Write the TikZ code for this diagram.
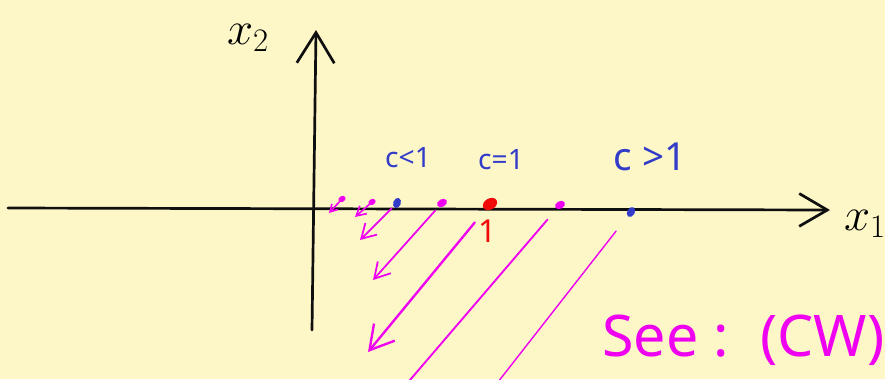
\RequirePackage{fix-cm}
\documentclass[tikz,border=0pt]{standalone}
\usepackage{fontspec}
\setsansfont{Noto Sans}
\usetikzlibrary{arrows.meta,positioning,calc,shapes.geometric}
\definecolor{paper}{RGB}{253,247,200}
\definecolor{pen}{RGB}{15,15,15}
\definecolor{penblue}{RGB}{50,60,200}
\definecolor{penmag}{RGB}{240,0,240}
\definecolor{penred}{RGB}{240,10,10}

\begin{document}
\begin{tikzpicture}[x=0.03cm,y=-0.03cm,line cap=round,line join=round,
  axisline/.style={line width=2.3pt,pen},
  flow/.style 2 args={penmag,line width=1.7pt,-{Straight Barb[length=#1,width=#2]}},
  dot/.style={ellipse,fill,inner sep=0pt,minimum width=9pt,minimum height=6.5pt,rotate=30},
  lbl/.style={penblue,font=\sffamily\fontsize{#1}{#1}\selectfont}]
\fill[paper] (0,0) rectangle (885,379);
\useasboundingbox (0,0) rectangle (885,379);
\clip (0,0) rectangle (885,379);

\coordinate (xs) at (8,208);
\coordinate (xe) at (830,210);
\coordinate (ys) at (312,330);
\coordinate (ye) at (316,30);
\draw[axisline,-{Straight Barb[length=24pt,width=28pt]}] (xs) -- (xe);
\draw[axisline,-{Straight Barb[length=26pt,width=32pt]}] (ys) -- (ye);
\node[font=\fontsize{40}{40}\selectfont] (xtwo) at (248,38) {$x_2$};
\node[font=\fontsize{40}{40}\selectfont,anchor=west] (xone) at (840,224) {$x_1$};

\node[dot,penmag,minimum width=6.5pt,minimum height=5pt] (m1) at (342,199) {};
\node[dot,penmag,minimum width=6.5pt,minimum height=5pt] (m2) at (372,202) {};
\node[dot,penblue,rotate=40] (b1) at (397,203) {};
\node[dot,penmag] (m3) at (442,203) {};
\node[dot,penred,minimum width=13pt,minimum height=9.5pt] (r1) at (490,204) {};
\node[dot,penmag] (m4) at (560,205) {};
\node[dot,penblue,rotate=30] (b2) at (631,212) {};

\node[lbl=24] (cless) at (408,158) {c<1};
\node[lbl=24] (cequal) at (501,160) {c=1};
\node[lbl=33] (cmore) at (650,157) {c >1};
\node[penred,font=\sffamily\fontsize{27}{27}\selectfont] (one) at (488,231) {1};

\coordinate (e1) at (329,213);
\coordinate (e2) at (355,217);
\coordinate (e3) at (360,240);
\coordinate (e4) at (373,280);
\coordinate (e5) at (368,352);
\coordinate (e6) at (386,408);
\coordinate (e7) at (480,405);
\draw[flow={6pt}{7pt},line width=1.4pt] (m1) -- (e1);
\draw[flow={8pt}{9pt},line width=1.4pt] (m2) -- (e2);
\draw[flow={12pt}{14pt},line width=1.5pt,shorten <=2pt] (b1) -- (e3);
\draw[flow={13pt}{15pt},line width=1.5pt,shorten <=4pt] (m3) -- (e4);
\draw[flow={20pt}{23pt},line width=2pt,shorten <=14pt] (r1) -- (e5);
\draw[penmag,line width=1.6pt,shorten <=12pt] (m4) -- (e6);
\draw[penmag,line width=1.2pt,shorten <=16pt] (b2) -- (e7);

\node[penmag,font=\sffamily\fontsize{49}{49}\selectfont,anchor=west] (see) at (598,340) {See :\hspace{0.55em}(CW)};
\end{tikzpicture}
\end{document}
